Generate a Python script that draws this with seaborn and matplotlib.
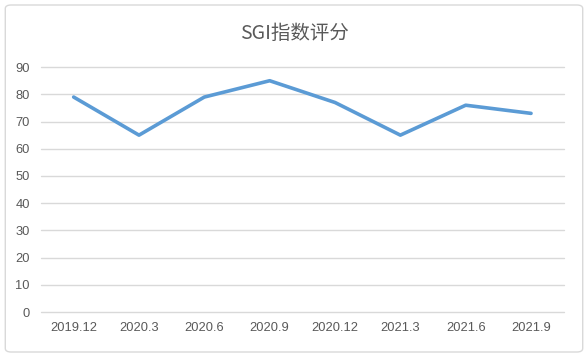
import matplotlib
matplotlib.use("Agg")
import matplotlib.pyplot as plt
import seaborn as sns
import pandas as pd
from matplotlib.patches import FancyBboxPatch

periods = ["2019.12", "2020.3", "2020.6", "2020.9", "2020.12", "2021.3", "2021.6", "2021.9"]
scores = [79, 65, 79, 85, 77, 65, 76, 73]
yticks = [0, 10, 20, 30, 40, 50, 60, 70, 80, 90]
title = "SGI指数评分"

sns.set_theme(style="white")
plt.rcParams['font.family'] = ['Liberation Sans', 'Noto Sans CJK SC', 'DejaVu Sans']

df = pd.DataFrame({"period": periods, "score": scores})
df["pos"] = range(len(periods))

fig = plt.figure(figsize=(5.88, 3.57), dpi=100)
ax = fig.add_axes([0.0697, 0.126, 0.889, 0.686])

sns.lineplot(data=df, x="pos", y="score", ax=ax, color="#5B9BD5", linewidth=2.6, sort=False)

ax.set_xlim(-0.5, len(periods) - 0.5)
ax.set_ylim(0, 90)
ax.set_yticks(yticks)
ax.set_xticks(df["pos"])
ax.set_xticklabels(periods)
for y in yticks:
    ax.axhline(y, color="#D9D9D9", linewidth=1.0, zorder=0)
for s in ax.spines.values():
    s.set_visible(False)
ax.tick_params(axis="both", length=0, labelsize=9.3, labelcolor="#595959")
ax.tick_params(axis="y", pad=8)
ax.tick_params(axis="x", pad=7)
ax.set_xlabel("")
ax.set_ylabel("")
for line in ax.lines:
    line.set_clip_on(False)

fig.text(0.5, 0.905, title, ha="center", va="center", fontsize=14, color="#595959",
         family=['Noto Sans CJK SC', 'DejaVu Sans'])

border = FancyBboxPatch((0.009, 0.014), 0.982, 0.972, boxstyle="round,pad=0,rounding_size=0.01",
                        transform=fig.transFigure, facecolor="none", edgecolor="#D9D9D9", linewidth=1.0)
fig.patches.append(border)

fig.savefig("out.png", dpi=100)
